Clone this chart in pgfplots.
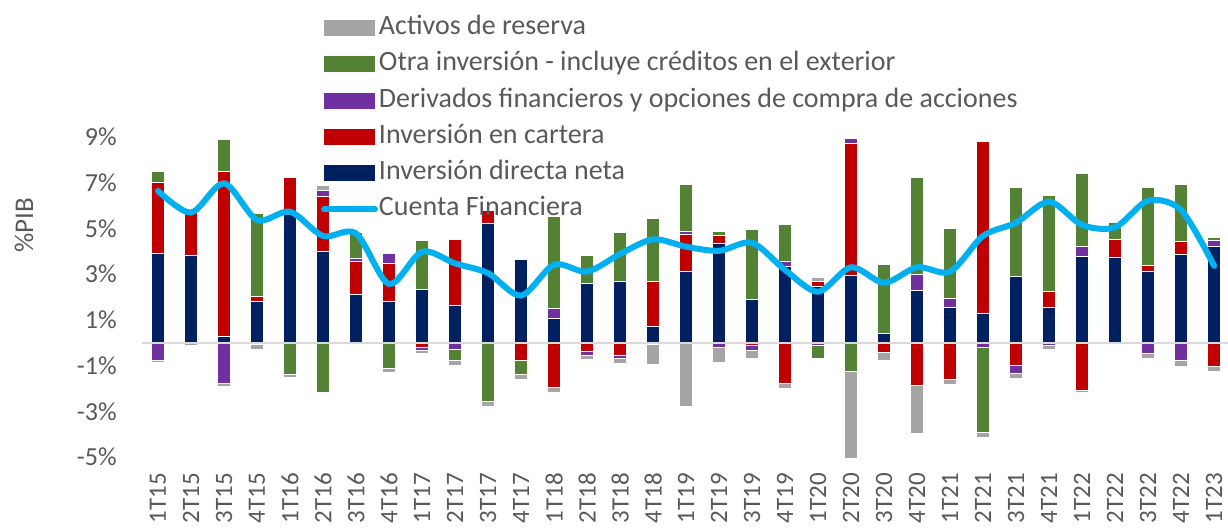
\documentclass[border=0pt]{standalone}
\usepackage{fontspec}
\setmainfont{Carlito}
\usepackage{pgfplots}
\usepackage{pgfplotstable}
\pgfplotsset{compat=1.18}
\definecolor{cnavy}{HTML}{002060}
\definecolor{cred}{HTML}{C00000}
\definecolor{cpurple}{HTML}{7030A0}
\definecolor{cgreen}{HTML}{548235}
\definecolor{cgray}{HTML}{A5A5A5}
\definecolor{ccyan}{HTML}{00B0F0}
\definecolor{ctext}{HTML}{595959}
\definecolor{czero}{HTML}{D9D9D9}

% positive parts
\pgfplotstableread{
x navy red purple green gray
0 3.89 3.13 0 0.45 0
1 3.82 2.01 0 0 0
2 0.26 7.22 0 1.39 0
3 1.79 0.25 0 3.62 0
4 5.59 1.63 0 0 0
5 3.98 2.41 0.25 0 0.23
6 2.10 1.47 0.12 1.14 0
7 1.79 1.68 0.44 0 0
8 2.31 0 0 2.17 0
9 1.62 2.90 0 0 0
10 5.21 0.58 0 0 0
11 3.62 0 0 0 0
12 1.05 0 0.44 4.02 0
13 2.58 0 0 1.24 0
14 2.66 0 0 2.14 0
15 0.70 1.96 0 2.79 0
16 3.11 1.63 0.13 2.07 0
17 4.36 0.32 0 0.19 0
18 1.91 0 0 3.06 0
19 3.33 0 0.24 1.58 0
20 2.45 0.21 0 0 0.21
21 2.93 5.79 0.20 0 0
22 0.39 0 0 3.02 0
23 2.28 0 0.71 4.24 0
24 1.53 0 0.40 3.07 0
25 1.26 7.56 0 0 0
26 2.89 0 0 3.88 0
27 1.53 0.73 0 4.17 0
28 3.76 0 0.43 3.19 0
29 3.73 0.79 0 0.72 0
30 3.11 0.26 0 3.43 0
31 3.85 0.57 0 2.52 0
32 4.20 0 0.26 0.12 0
}\postab

% negative parts
\pgfplotstableread{
x red purple green gray
0 0 -0.76 0 -0.11
1 0 0 0 -0.12
2 0 -1.78 0 -0.14
3 0 -0.07 0 -0.22
4 0 0 -1.38 -0.15
5 0 0 -2.19 0
6 0 0 0 -0.08
7 0 0 -1.15 -0.16
8 -0.22 -0.14 0 -0.13
9 0 -0.29 -0.51 -0.20
10 0 0 -2.58 -0.19
11 -0.76 -0.04 -0.60 -0.19
12 -1.98 0 0 -0.18
13 -0.38 -0.17 0 -0.18
14 -0.55 -0.15 0 -0.19
15 0 -0.07 0 -0.88
16 0 0 0 -2.77
17 0 -0.22 0 -0.64
18 -0.14 -0.21 0 -0.32
19 -1.78 0 0 -0.23
20 0 -0.13 -0.54 0
21 0 0 -1.24 -3.83
22 -0.45 0 0 -0.32
23 -1.88 0 0 -2.11
24 -1.59 0 0 -0.22
25 0 -0.22 -3.69 -0.22
26 -0.98 -0.38 0 -0.20
27 0 -0.13 0 -0.16
28 -2.07 0 0 -0.12
29 0 0 0 -0.08
30 0 -0.49 0 -0.18
31 0 -0.77 0 -0.25
32 -1.06 0 0 -0.18
}\negtab

% Cuenta Financiera
\pgfplotstableread{
x cf
0 6.64
1 5.69
2 6.97
3 5.37
4 5.73
5 4.67
6 4.78
7 2.57
8 3.98
9 3.47
10 3.04
11 2.06
12 3.41
13 3.11
14 3.88
15 4.52
16 4.20
17 4.02
18 4.37
19 3.18
20 2.23
21 3.30
22 2.62
23 3.30
24 3.11
25 4.67
26 5.25
27 6.17
28 5.15
29 5.05
30 6.21
31 5.80
32 3.36
}\cftab

\tikzset{legbar/.style={}, legline/.style={}}
\pgfplotsset{
  legbar/.style={legend image code/.code={\fill[##1, draw=none] (0pt,-4pt) rectangle (25.5pt,4pt);}},
  legline/.style={legend image code/.code={\draw[##1] (0pt,0pt) -- (25.5pt,0pt);}},
  base/.style={
    scale only axis, width=543.25pt, height=171.45pt,
    xmin=-0.5, xmax=32.42, ymin=-5.5, ymax=9.5,
    enlargelimits=false,
    axis line style={draw=none}, tick style={draw=none},
  },
  barstyle/.style={draw=white, line width=0.5pt},
}

\begin{document}
\begin{tikzpicture}
\useasboundingbox (0,0) rectangle (614pt,264.5pt);
% positive stacks + axis labels
\begin{axis}[base, at={(70.75pt,30.285pt)}, anchor=south west,
  ybar stacked, bar width=6.2pt,
  xtick={0,...,32},
  xticklabels={1T15,2T15,3T15,4T15,1T16,2T16,3T16,4T16,1T17,2T17,3T17,4T17,1T18,2T18,3T18,4T18,1T19,2T19,3T19,4T19,1T20,2T20,3T20,4T20,1T21,2T21,3T21,4T21,1T22,2T22,3T22,4T22,1T23},
  xticklabel style={rotate=90, anchor=east, inner sep=2pt, font=\fontsize{12.5}{14}\selectfont, text=ctext},
  ytick={-5,-3,-1,1,3,5,7,9},
  yticklabels={-5\%,-3\%,-1\%,1\%,3\%,5\%,7\%,9\%},
  yticklabel style={anchor=east, inner sep=0pt, xshift=-12.25pt, font=\fontsize{13}{15}\selectfont, text=ctext},
  ylabel={\%PIB},
  every axis y label/.style={at={(axis description cs:-0.1081,0.7084)}, anchor=center, rotate=90, font=\fontsize{13.5}{16}\selectfont, text=ctext},
]
\addplot[barstyle, fill=cnavy] table[x=x,y=navy]{\postab};
\addplot[barstyle, fill=cred] table[x=x,y=red]{\postab};
\addplot[barstyle, fill=cpurple] table[x=x,y=purple]{\postab};
\addplot[barstyle, fill=cgreen] table[x=x,y=green]{\postab};
\addplot[barstyle, fill=cgray] table[x=x,y=gray]{\postab};
\end{axis}
% negative stacks
\begin{axis}[base, at={(70.75pt,30.285pt)}, anchor=south west, hide axis,
  ybar stacked, bar width=6.2pt]
\addplot[barstyle, fill=cred] table[x=x,y=red]{\negtab};
\addplot[barstyle, fill=cpurple] table[x=x,y=purple]{\negtab};
\addplot[barstyle, fill=cgreen] table[x=x,y=green]{\negtab};
\addplot[barstyle, fill=cgray] table[x=x,y=gray]{\negtab};
\end{axis}
% zero line, Cuenta Financiera, legend
\begin{axis}[base, at={(70.75pt,30.285pt)}, anchor=south west, hide axis,
  legend style={at={(axis description cs:0.1652,1.324)}, anchor=north west,
    draw=none, fill=none, font=\fontsize{14}{16}\selectfont, text=ctext,
    row sep=4.65pt, inner sep=0pt, outer sep=0pt,
    nodes={inner sep=0pt, text height=10pt, text depth=3.5pt},
    /tikz/every odd column/.append style={column sep=0.5pt}},
  legend cell align=left,
]
\draw[czero, line width=0.9pt] (axis cs:-0.5,0) -- (axis cs:32.42,0);
\addlegendimage{legbar, fill=cgray}
\addlegendentry{Activos de reserva}
\addlegendimage{legbar, fill=cgreen}
\addlegendentry{Otra inversión - incluye créditos en el exterior}
\addlegendimage{legbar, fill=cpurple}
\addlegendentry{Derivados financieros y opciones de compra de acciones}
\addlegendimage{legbar, fill=cred}
\addlegendentry{Inversión en cartera}
\addlegendimage{legbar, fill=cnavy}
\addlegendentry{Inversión directa neta}
\addplot[legline, ccyan, line width=3pt, smooth, line cap=round, no marks] table[x=x,y=cf]{\cftab};
\addlegendentry{Cuenta Financiera}
\end{axis}
\end{tikzpicture}
\end{document}
